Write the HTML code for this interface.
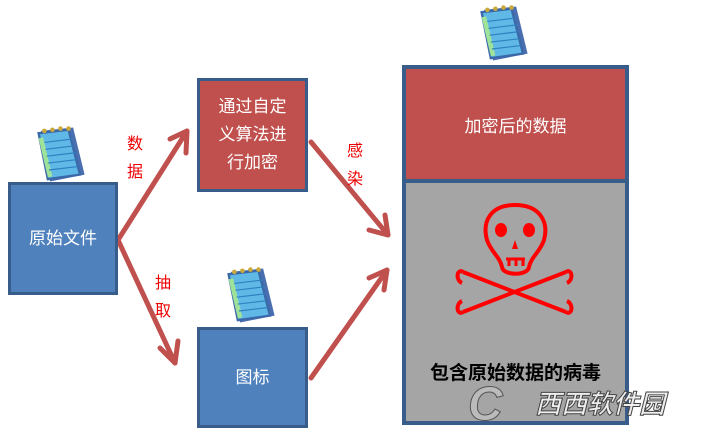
<!DOCTYPE html>
<html><head><meta charset="utf-8"><style>
body{margin:0;width:707px;height:430px;background:#fff;overflow:hidden;position:relative;font-family:"Liberation Sans","Noto Sans CJK SC",sans-serif}
.b{position:absolute;box-sizing:border-box;border:3px solid #385d8a;color:#fff;display:flex;align-items:center;justify-content:center;text-align:center;font-size:17px;line-height:28px}
.l{position:absolute;color:#e00;font-size:16px;line-height:28px;width:18px}
</style></head><body>
<svg width="707" height="430" style="position:absolute;left:0;top:0">
<defs>
<g id="pad" transform="scale(1.15)">
<path d="M6 6 L34 3 L44 44 L14 50 Z" fill="#4a6fb0"/>
<path d="M4 8 L30 5 L40 44 L12 48 Z" fill="#5fb8e6" stroke="#3a68a8" stroke-width="2"/>
<path d="M6 12 L14 46" stroke="#9fe39a" stroke-width="4"/>
<g stroke="#2f80c0" stroke-width="1"><path d="M9 16 L34 13"/><path d="M10 22 L35 19"/><path d="M11 28 L36 25"/><path d="M12 34 L37 31"/><path d="M13 40 L38 37"/></g>
<g fill="#c9a93a"><circle cx="9" cy="6" r="2"/><circle cx="16" cy="5" r="2"/><circle cx="23" cy="4" r="2"/><circle cx="30" cy="4" r="2"/></g>
</g>
</defs>
<use href="#pad" x="34" y="124"/>
<use href="#pad" x="224" y="265"/>
<use href="#pad" x="477" y="3"/>
<g stroke="#c0504d" stroke-width="5" fill="none" stroke-linecap="round" stroke-linejoin="round">
<path d="M118 240 L187 131"/><path d="M170 139 L187 131 L186 153"/>
<path d="M118 240 L175 363"/><path d="M160 348 L175 363 L178 341"/>
<path d="M311 142 L388 235"/><path d="M369 230 L388 235 L385 215"/>
<path d="M311 378 L387 270"/><path d="M384 290 L387 270 L369 278"/>
</g>
</svg>
<div class="b" style="left:8px;top:182px;width:110px;height:113px;background:#4f81bd">原始文件</div>
<div class="b" style="left:197px;top:78px;width:111px;height:114px;background:#c0504d;padding:0 14px">通过自定义算法进行加密</div>
<div class="b" style="left:197px;top:327px;width:111px;height:101px;background:#4f81bd">图标</div>
<div class="l" style="left:127px;top:131px">数<br>据</div>
<div class="l" style="left:155px;top:270px">抽<br>取</div>
<div class="l" style="left:347px;top:138px">感<br>染</div>
<div style="position:absolute;left:402px;top:65px;width:227px;height:360px;box-sizing:border-box;border:4px solid #385d8a;background:#a5a5a5">
<div style="position:absolute;left:0;top:0;right:0;height:110px;background:#c0504d;border-bottom:4px solid #385d8a;color:#fff;font-size:17px;display:flex;align-items:center;justify-content:center">加密后的数据</div>
<div style="position:absolute;left:0;right:0;top:289px;text-align:center;font-weight:bold;font-size:19px;color:#000">包含原始数据的病毒</div>
</div>
<svg width="707" height="430" style="position:absolute;left:0;top:0">
<g stroke="#f00" stroke-width="4" fill="none">
<path d="M515 205 C490 205 482 222 487 240 C491 252 500 257 502 267 C503 276 528 276 529 267 C531 257 540 252 544 240 C549 222 540 205 515 205 Z"/>
<path d="M463 272 L566 312 M566 272 L463 312"/>
<path d="M463 272 C457 268 455 280 462 283 M566 272 C572 268 574 280 567 283 M463 312 C457 316 455 304 462 301 M566 312 C572 316 574 304 567 301"/>
</g>
<g fill="#f00"><ellipse cx="501" cy="230" rx="6" ry="7"/><ellipse cx="529" cy="230" rx="6" ry="7"/><path d="M515 240 L518 249 L512 249 Z"/></g>
<path d="M506 259 H525 M509 259 V266 M516 259 V266 M523 259 V266" stroke="#f00" stroke-width="3"/>
<text x="468" y="420" font-family="Liberation Sans" font-size="48" font-style="italic" font-weight="bold" fill="#bbb" stroke="#555" stroke-width="1">C</text>
<text x="535" y="413" font-family="Noto Sans CJK SC" font-size="26" font-style="italic" font-weight="bold" fill="#eee" stroke="#444" stroke-width="1">西西软件园</text>
</svg>
</body></html>
